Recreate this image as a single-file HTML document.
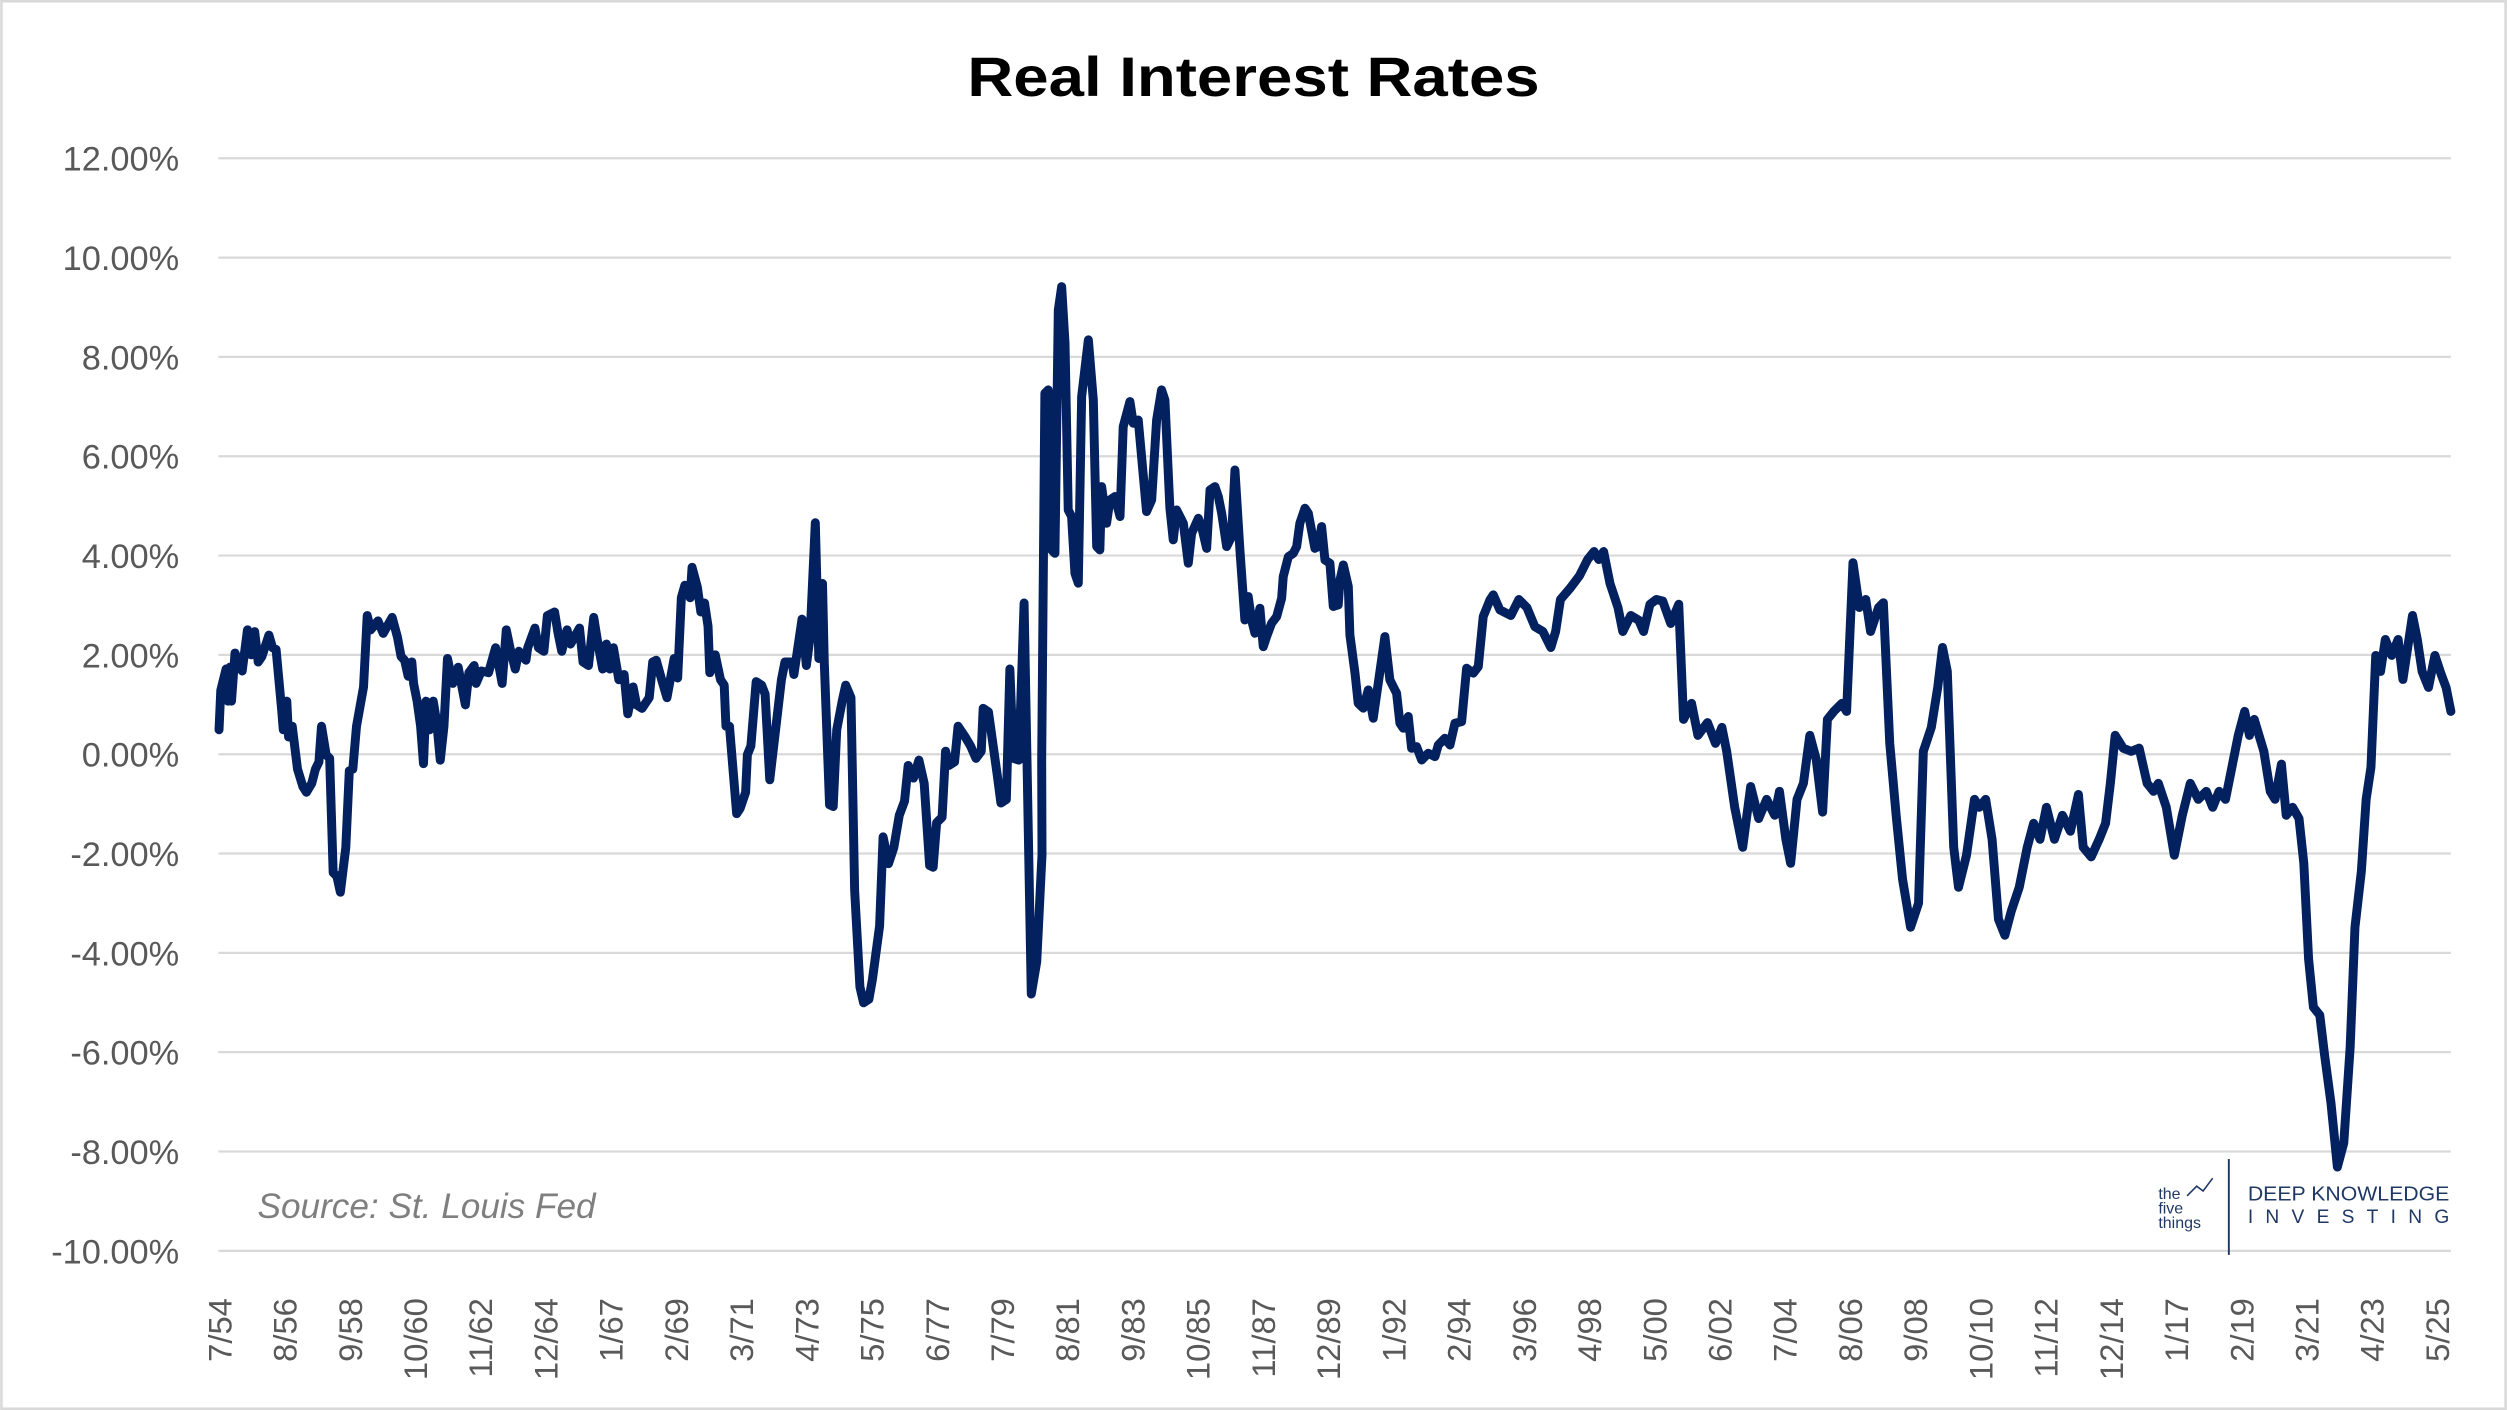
<!DOCTYPE html>
<html><head><meta charset="utf-8"><style>
html,body{margin:0;padding:0;background:#fff;}
svg{display:block;}
text{font-family:"Liberation Sans",sans-serif;}
</style></head><body>
<svg id="s" width="2507" height="1410" viewBox="0 0 1568 882" xmlns="http://www.w3.org/2000/svg">
<rect x="0.8" y="0.8" width="1566.4" height="880.4" fill="#fff" stroke="#d9d9d9" stroke-width="1.6"/>
<text x="784" y="60" text-anchor="middle" font-size="35" font-weight="bold" fill="#000" textLength="358" lengthAdjust="spacingAndGlyphs">Real Interest Rates</text>
<g id="grid" stroke="#d9d9d9" stroke-width="1.4"></g>
<g id="ylab" font-size="21.5" fill="#595959" text-anchor="end"></g>
<g id="xlab" font-size="20.5" fill="#595959" text-anchor="end"></g>
<text x="161" y="762" font-size="22" font-style="italic" fill="#7f7f7f">Source: St. Louis Fed</text>
<g fill="#1f3864">
<text x="1350" y="750" font-size="10">the</text>
<text x="1350" y="759" font-size="10">five</text>
<text x="1350" y="768" font-size="10">things</text>
<polyline points="1368,748 1374,742 1378,745 1384,737" fill="none" stroke="#1f3864" stroke-width="1"/>
<rect x="1393.5" y="725" width="1.2" height="60"/>
<text x="1406" y="751" font-size="12.5" textLength="126" lengthAdjust="spacingAndGlyphs">DEEP KNOWLEDGE</text>
<text x="1406" y="765" font-size="12" textLength="126" lengthAdjust="spacing">INVESTING</text>
</g>
<path id="line" fill="none" stroke="#03215e" stroke-width="5.6" stroke-linejoin="round" stroke-linecap="round"/>
</svg>
<script>
var NS="http://www.w3.org/2000/svg";
function el(p,t,a,txt){var e=document.createElementNS(NS,t);for(var k in a)e.setAttribute(k,a[k]);if(txt)e.textContent=txt;p.appendChild(e);return e;}
var g=document.getElementById('grid'),yl=document.getElementById('ylab'),xl=document.getElementById('xlab');
for(var i=0;i<12;i++){var y=99+i*62.13;el(g,'line',{x1:136.5,x2:1533,y1:y,y2:y});
var v=12-2*i;el(yl,'text',{x:112,y:y+7.8},v.toFixed(2)+'%');}
var labs="7/54 8/56 9/58 10/60 11/62 12/64 1/67 2/69 3/71 4/73 5/75 6/77 7/79 8/81 9/83 10/85 11/87 12/89 1/92 2/94 3/96 4/98 5/00 6/02 7/04 8/06 9/08 10/10 11/12 12/14 1/17 2/19 3/21 4/23 5/25".split(' ');
labs.forEach(function(l,i){var x=137.6+i*40.8+7;el(xl,'text',{transform:'translate('+x+',812) rotate(-90)'},l);});
var z4=[25,700,30,590,45,530,50,620,55,525,60,620,70,485,90,535,105,420,115,490,125,425,135,510,145,495,165,435,175,470,185,475,200,640,205,700,215,620,220,720,230,690,245,810,260,860,270,875,285,850,295,810,305,790,312,690,325,770,335,780,345,1100,355,1110,365,1155,380,1030,390,815,400,810,410,690,430,580,440,380,450,420,470,395,485,430,510,385,525,440,535,495,545,505,555,550,565,510,570,570,580,620,590,690,598,795,605,620,615,700,625,620,635,680,645,785,655,690,665,500,680,570,695,525,715,630,725,540,740,520,745,570,760,535,780,540,800,470,818,570,830,420,840,470,855,530,865,480,885,505,890,470,910,415,920,470,935,480,945,380,965,370,975,430,985,480,1000,420,1010,460,1035,415,1045,510,1060,520,1075,385,1085,450,1100,530,1110,460,1120,530,1130,470,1145,560,1160,545,1170,655,1185,580,1195,630,1210,640,1230,610,1240,510,1250,505,1265,560,1280,610,1300,500,1310,555,1320,330,1330,295,1345,330,1350,245,1365,300,1375,370,1385,345,1395,410,1400,540,1415,490,1430,560,1440,575,1445,690,1455,690,1465,810,1475,935,1485,920,1500,875,1505,770,1515,745,1530,565,1545,575,1555,600,1568,840];
var z5=[60,560,70,510,90,510,95,545,118,390,130,520,140,440,155,120,165,500,175,290,180,510,195,910,205,915,215,700,230,620,240,575,255,610,265,1150,280,1420,290,1465,305,1455,315,1400,335,1250,345,1000,360,1075,375,1030,390,940,405,900,415,800,430,835,445,785,460,850,475,1080,485,1085,495,960,510,945,520,760,530,800,545,790,555,690,575,720,590,745,605,780,620,760,625,640,640,650,665,830,675,905,690,895,700,530,710,780,725,785,740,345,760,1440,775,1350,790,1050];
var z6=[125,1500,135,400,145,390,155,870,165,880,175,150,185,80,195,250,205,750,215,770,225,940,235,970,245,410,265,240,280,420,290,860,300,870,305,680,320,790,330,720,345,710,360,770,370,500,390,425,400,490,415,480,440,755,455,720,470,480,485,390,495,420,510,745,520,840,530,750,550,790,565,910,575,820,595,775,605,800,620,865,630,690,645,680,655,710,665,760,680,860,695,830,705,630,720,870,735,1080,745,1010,755,1080,765,1120,780,1045,790,1160,800,1130,815,1090,830,1070,845,1015,850,950,865,890,880,880,890,860,900,790,915,745,925,760,945,865,955,860,965,800,975,900,990,910,1000,1040,1015,1035,1020,960,1030,915,1045,980,1050,1125,1065,1240,1075,1330,1090,1345,1105,1290,1120,1375,1155,1130,1170,1260,1190,1300,1200,1390,1210,1405,1225,1370,1235,1465,1250,1460,1265,1500,1285,1480,1305,1490,1315,1455,1335,1435,1350,1455,1365,1390,1385,1385,1400,1225,1420,1240,1435,1220,1450,1070,1470,1020,1480,1005,1500,1050];
var ov=[945,385,950,375,955,380,960,392,965,395,970,405,973,395,976,375,982,368,988,360,993,350,997,345,1000,350,1003,345,1007,365,1012,380,1015,395,1020,385,1025,388,1028,395,1032,378,1036,375,1040,376,1045,390,1050,378,1053,450,1058,440,1062,460,1068,452,1073,465,1077,455,1080,470,1085,505,1090,530,1095,492,1100,512,1105,500,1110,510,1113,495,1117,525,1120,540,1124,500,1128,490,1132,460,1136,475,1140,508,1143,450,1147,445,1152,440,1155,445,1159,352,1163,380,1167,375,1170,395,1175,380,1178,377,1182,465,1186,510,1190,550,1195,580,1200,565,1203,470,1208,455,1212,430,1215,405,1218,420,1222,530,1225,555,1230,535,1235,500,1238,505,1242,500,1246,525,1250,575,1254,585,1258,570,1263,555,1268,530,1272,515,1276,525,1280,505,1285,525,1290,510,1295,520,1300,497,1303,530,1308,536,1313,525,1317,515,1320,490,1323,460,1328,468,1333,470,1338,468,1343,490,1347,495,1350,490,1355,505,1360,535,1365,510,1370,490,1375,500,1380,495,1384,505,1388,495,1392,500,1396,480,1400,460,1404,445,1407,460,1410,450,1413,460,1416,470,1420,495,1423,500,1427,478,1430,510,1434,505,1438,512,1441,540,1444,600,1447,630,1451,635,1454,660,1458,690,1462,730,1466,715,1470,655,1473,580,1477,545,1480,500,1483,480,1486,410,1489,420,1492,400,1496,410,1500,400,1503,425,1506,405,1509,385,1512,400,1515,420,1519,430,1523,410,1527,422,1530,430,1533,445];
var pts=[];
for(var i=0;i<z4.length;i+=2)pts.push([131.3+z4[i]*0.2233,300.2+z4[i+1]*0.2233]);
for(var i=0;i<z5.length;i+=2)pts.push([475.3+z5[i]*0.2233,300.2+z5[i+1]*0.2233]);
for(var i=0;i<z6.length;i+=2)pts.push([625.4+z6[i]*0.2085,162.6+z6[i+1]*0.2085]);
for(var i=0;i<ov.length;i+=2)pts.push([ov[i],ov[i+1]]);
document.getElementById('line').setAttribute('d','M'+pts.map(function(p){return p[0].toFixed(1)+','+p[1].toFixed(1);}).join('L'));
</script>
</body></html>
